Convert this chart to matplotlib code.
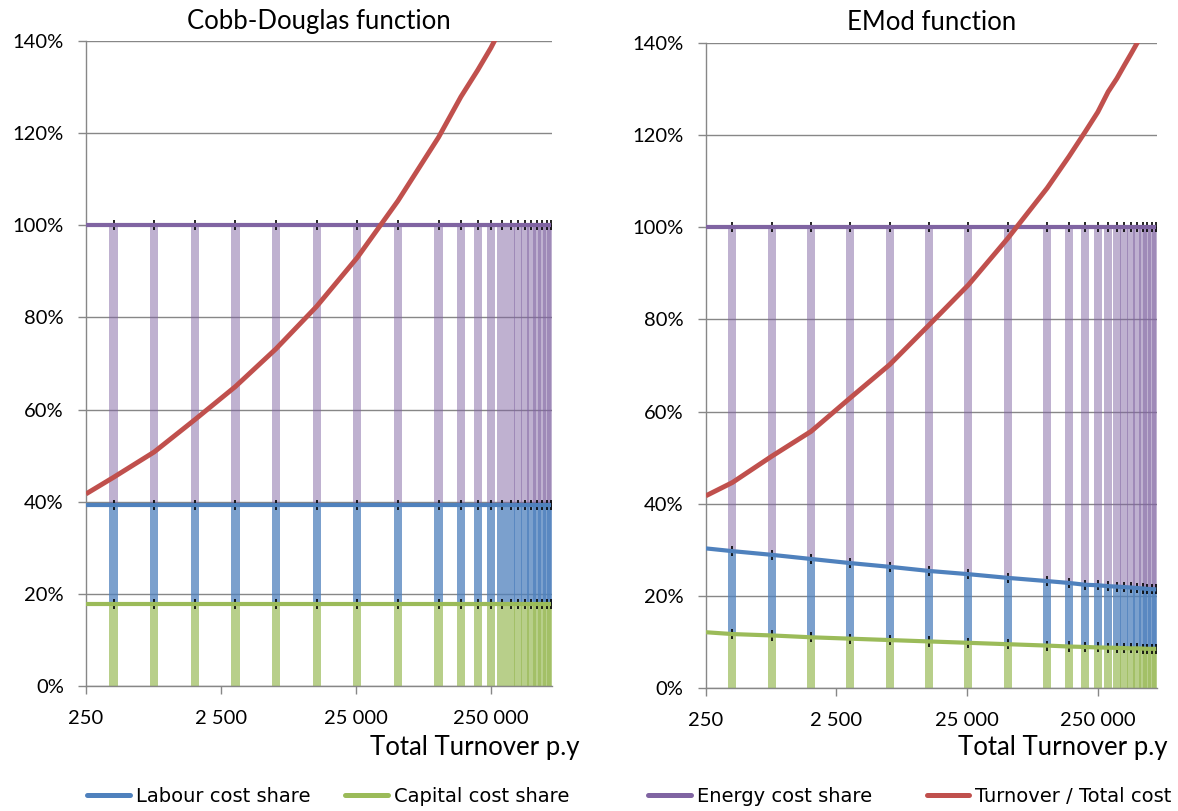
import matplotlib
matplotlib.use("Agg")
import matplotlib.pyplot as plt
from matplotlib.lines import Line2D
import numpy as np

plt.rcParams['font.family'] = ['Lato', 'DejaVu Sans']

# turnover points (lines start at 250, columns start at 400)
turnover = [250, 400, 800, 1600, 3200, 6400, 12800, 25600, 51200, 102400,
            150000, 200000, 250000, 300000, 350000, 400000, 450000, 500000,
            550000, 600000, 650000, 700000]
tick_values = [250, 2500, 25000, 250000]
tick_labels = ['250', '2 500', '25 000', '250 000']

# Cobb-Douglas shares (%)
cd_capital = [17.8] * 22
cd_labour = [21.5] * 22
cd_energy = [60.7] * 22
cd_ratio = [41.7, 45.3, 50.8, 57.8, 65.0, 73.2, 82.4, 93.0, 105.3, 119.1,
            127.9, 133.7, 138.5, 143.0, 147.0, 151.0, 155.0, 158.0, 161.0,
            164.0, 167.0, 170.0]

# EMod shares (%)
em_capital = [12.1, 11.7, 11.4, 11.0, 10.7, 10.4, 10.1, 9.8, 9.5, 9.2, 9.0,
              8.9, 8.8, 8.75, 8.7, 8.65, 8.6, 8.6, 8.55, 8.5, 8.5, 8.5]
em_labour = [18.2, 18.0, 17.5, 17.0, 16.4, 15.9, 15.3, 14.9, 14.4, 14.0, 13.8,
             13.5, 13.5, 13.35, 13.3, 13.25, 13.2, 13.1, 13.05, 13.0, 12.95, 12.9]
em_energy = [69.7, 70.3, 71.1, 72.0, 72.9, 73.7, 74.6, 75.3, 76.1, 76.8, 77.2,
             77.6, 77.7, 77.9, 78.0, 78.1, 78.2, 78.3, 78.4, 78.5, 78.55, 78.6]
em_ratio = [41.7, 44.6, 50.3, 55.7, 63.0, 70.2, 78.8, 87.5, 97.6, 108.5,
            115.3, 120.7, 125.0, 129.4, 132.3, 135.2, 137.7, 140.0, 142.0,
            144.0, 146.0, 148.0]

BLUE = '#4F81BD'
GREEN = '#9BBB59'
PURPLE = '#8064A2'
RED = '#C0504D'
GRID = '#878787'

fig = plt.figure(figsize=(11.78, 8.11), dpi=100)
ax1 = fig.add_axes([0.0730, 0.1541, 0.3956, 0.7953])
ax2 = fig.add_axes([0.5991, 0.1517, 0.3831, 0.7953])


def draw_panel(ax, capital, labour, energy, ratio, title):
    x = np.array(turnover, dtype=float)
    cap = np.array(capital)
    lab = np.array(labour)
    ene = np.array(energy)
    c1 = cap
    c2 = cap + lab
    c3 = cap + lab + ene

    xb = x[1:]
    half = 10 ** 0.0305
    left = xb / half
    width = xb * half - left
    ax.bar(left, cap[1:], width=width, align='edge', color=GREEN, alpha=0.7,
           linewidth=0, zorder=2)
    ax.bar(left, lab[1:], width=width, bottom=c1[1:], align='edge', color=BLUE,
           alpha=0.75, linewidth=0, zorder=2)
    ax.bar(left, ene[1:], width=width, bottom=c2[1:], align='edge', color=PURPLE,
           alpha=0.5, linewidth=0, zorder=2)

    for lvl in (c1, c2, c3):
        ax.vlines(xb, lvl[1:] - 1.1, lvl[1:] + 1.1, color='black', lw=1.2, zorder=3)

    ax.plot(x, c1, color=GREEN, lw=3.0, zorder=4, solid_capstyle='butt')
    ax.plot(x, c2, color=BLUE, lw=3.0, zorder=4, solid_capstyle='butt')
    ax.plot(x, c3, color=PURPLE, lw=3.0, zorder=4, solid_capstyle='butt')
    ax.plot(x, ratio, color=RED, lw=3.5, zorder=5, solid_capstyle='butt')

    ax.set_xscale('log')
    ax.set_xlim(250, 710000)
    ax.set_ylim(0, 140)
    ax.set_yticks(range(0, 141, 20))
    ax.set_yticklabels([f'{v}%' for v in range(0, 141, 20)])
    ax.set_xticks(tick_values)
    ax.set_xticklabels(tick_labels)
    ax.xaxis.set_minor_locator(matplotlib.ticker.NullLocator())
    ax.grid(axis='y', color=GRID, lw=1.0, zorder=0)
    ax.set_axisbelow(True)
    for s in ('top', 'right'):
        ax.spines[s].set_visible(False)
    for s in ('left', 'bottom'):
        ax.spines[s].set_color(GRID)
        ax.spines[s].set_linewidth(1.0)
    ax.tick_params(axis='both', color=GRID, length=6, width=1.0, labelsize=14.5,
                   direction='out')
    ax.tick_params(axis='y', pad=10)
    ax.tick_params(axis='x', pad=11)
    ax.set_title(title, fontsize=18.5, pad=9)


draw_panel(ax1, cd_capital, cd_labour, cd_energy, cd_ratio, 'Cobb-Douglas function')
draw_panel(ax2, em_capital, em_labour, em_energy, em_ratio, 'EMod function')

fig.text(580 / 1178, 1 - 748 / 811, 'Total Turnover p.y', ha='right', va='center',
         fontsize=18.5)
fig.text(1168 / 1178, 1 - 748 / 811, 'Total Turnover p.y', ha='right', va='center',
         fontsize=18.5)

leg_font = {'family': ['Liberation Sans Narrow', 'DejaVu Sans'], 'size': 14}
h1 = [Line2D([], [], color=BLUE, lw=3.6, solid_capstyle='round'),
      Line2D([], [], color=GREEN, lw=3.6, solid_capstyle='round')]
h2 = [Line2D([], [], color=PURPLE, lw=3.6, solid_capstyle='round'),
      Line2D([], [], color=RED, lw=3.6, solid_capstyle='round')]
fig.legend(h1, ['Labour cost share', 'Capital cost share'], loc='center',
           bbox_to_anchor=(328 / 1178, 1 - 796 / 811), ncol=2, frameon=False,
           prop=leg_font, handlelength=2.2, handletextpad=0.3, columnspacing=1.8)
fig.legend(h2, ['Energy cost share', 'Turnover / Total cost'], loc='center',
           bbox_to_anchor=(910 / 1178, 1 - 796 / 811), ncol=2, frameon=False,
           prop=leg_font, handlelength=2.2, handletextpad=0.3, columnspacing=2.8)

fig.savefig('out.png', dpi=100)
